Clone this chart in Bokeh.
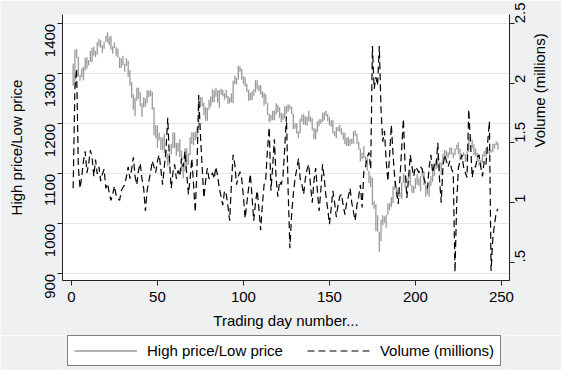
import math
from bokeh.plotting import figure
from bokeh.layouts import column
from bokeh.models import (Range1d, LinearAxis, FixedTicker, Legend, LegendItem,
                          CustomJSTickFormatter, ColumnDataSource)
from bokeh.embed import file_html
from bokeh.resources import INLINE

# ---------------- data ----------------
day = list(range(1, 249))

low = [1276, 1274, 1331, 1295, 1286, 1293, 1287, 1306, 1310, 1317,
       1324, 1323, 1336, 1333, 1338, 1355, 1352, 1342, 1350, 1364,
       1362, 1357, 1348, 1340, 1351, 1336, 1332, 1311, 1312, 1317,
       1304, 1316, 1294, 1276, 1252, 1228, 1215, 1246, 1250, 1235,
       1214, 1233, 1234, 1241, 1253, 1255, 1228, 1177, 1171, 1152,
       1167, 1148, 1147, 1142, 1130, 1115, 1117, 1139, 1151, 1151,
       1136, 1144, 1133, 1104, 1091, 1104, 1117, 1118, 1137, 1160,
       1157, 1167, 1171, 1191, 1233, 1235, 1217, 1206, 1206, 1228,
       1234, 1243, 1243, 1254, 1242, 1232, 1258, 1255, 1248, 1252,
       1240, 1241, 1243, 1241, 1279, 1279, 1288, 1304, 1288, 1280,
       1274, 1263, 1246, 1247, 1247, 1256, 1263, 1269, 1265, 1259,
       1252, 1236, 1240, 1218, 1203, 1206, 1207, 1207, 1218, 1223,
       1212, 1203, 1207, 1211, 1220, 1224, 1229, 1219, 1189, 1190,
       1180, 1171, 1181, 1204, 1198, 1198, 1196, 1205, 1203, 1187,
       1169, 1169, 1183, 1195, 1200, 1204, 1207, 1215, 1205, 1197,
       1194, 1181, 1175, 1171, 1185, 1184, 1178, 1168, 1159, 1156,
       1155, 1156, 1160, 1160, 1176, 1160, 1148, 1124, 1129, 1131,
       1120, 1106, 1081, 1073, 1037, 1030, 985, 984, 944, 965,
       997, 1002, 992, 1018, 1027, 1034, 1041, 1068, 1053, 1054,
       1053, 1050, 1081, 1073, 1081, 1089, 1076, 1062, 1061, 1070,
       1078, 1076, 1065, 1094, 1077, 1054, 1059, 1054, 1075, 1084,
       1095, 1109, 1112, 1108, 1098, 1117, 1132, 1134, 1131, 1137,
       1140, 1131, 1137, 1149, 1139, 1128, 1127, 1136, 1124, 1125,
       1144, 1163, 1151, 1137, 1135, 1125, 1116, 1114, 1122, 1134,
       1134, 1139, 1139, 1142, 1144, 1150, 1157, 1148]

high = [1320, 1348, 1350, 1334, 1298, 1311, 1314, 1332, 1333, 1327,
        1346, 1352, 1354, 1346, 1363, 1370, 1367, 1357, 1364, 1376,
        1383, 1374, 1376, 1355, 1363, 1353, 1350, 1333, 1331, 1336,
        1320, 1331, 1326, 1307, 1283, 1259, 1252, 1272, 1272, 1263,
        1241, 1253, 1251, 1267, 1266, 1267, 1264, 1233, 1197, 1197,
        1182, 1173, 1173, 1180, 1149, 1140, 1142, 1160, 1183, 1182,
        1162, 1162, 1169, 1146, 1118, 1151, 1151, 1141, 1173, 1183,
        1183, 1184, 1193, 1248, 1253, 1253, 1242, 1233, 1232, 1248,
        1255, 1269, 1267, 1272, 1267, 1267, 1270, 1268, 1261, 1268,
        1256, 1252, 1261, 1286, 1296, 1292, 1316, 1315, 1310, 1295,
        1293, 1280, 1268, 1262, 1265, 1269, 1287, 1287, 1277, 1277,
        1265, 1262, 1259, 1242, 1220, 1218, 1226, 1226, 1241, 1238,
        1233, 1222, 1220, 1235, 1236, 1239, 1237, 1234, 1220, 1201,
        1201, 1185, 1210, 1218, 1219, 1215, 1214, 1226, 1215, 1211,
        1191, 1190, 1205, 1209, 1209, 1222, 1223, 1226, 1220, 1214,
        1207, 1207, 1185, 1193, 1194, 1198, 1191, 1183, 1182, 1172,
        1174, 1169, 1170, 1185, 1187, 1180, 1164, 1150, 1142, 1155,
        1135, 1132, 1106, 1096, 1092, 1045, 1039, 1017, 984, 1008,
        1017, 1015, 1018, 1041, 1041, 1053, 1075, 1085, 1072, 1072,
        1063, 1082, 1100, 1097, 1092, 1101, 1107, 1078, 1075, 1091,
        1099, 1091, 1095, 1110, 1105, 1078, 1074, 1085, 1095, 1107,
        1121, 1126, 1136, 1123, 1123, 1140, 1148, 1146, 1143, 1153,
        1152, 1142, 1151, 1158, 1163, 1150, 1140, 1143, 1139, 1145,
        1173, 1173, 1168, 1159, 1150, 1142, 1137, 1128, 1139, 1145,
        1152, 1151, 1150, 1148, 1160, 1160, 1165, 1162]

volume = [1.12, 1.95, 2.12, 1.30, 1.12, 1.22, 1.35, 1.43, 1.25, 1.32,
          1.44, 1.38, 1.22, 1.36, 1.24, 1.30, 1.18, 1.24, 1.28, 1.12,
          1.16, 1.08, 1.02, 1.07, 1.14, 1.06, 1.03, 1.02, 1.10, 1.13,
          1.15, 1.22, 1.30, 1.20, 1.28, 1.38, 1.22, 1.15, 1.27, 1.33,
          1.20, 1.12, 0.93, 1.10, 1.18, 1.25, 1.35, 1.30, 1.25, 1.35,
          1.40, 1.28, 1.15, 1.30, 1.45, 1.71, 1.35, 1.12, 1.25, 1.32,
          1.20, 1.27, 1.22, 1.37, 1.30, 1.43, 1.25, 1.07, 1.20, 1.37,
          1.15, 0.92, 1.30, 1.90, 1.57, 1.30, 1.04, 1.18, 1.29, 1.20,
          1.21, 1.25, 1.20, 1.30, 1.22, 1.12, 1.05, 0.98, 1.10, 1.07,
          0.97, 0.85, 1.15, 1.40, 1.32, 1.15, 1.22, 1.26, 1.20, 1.05,
          0.87, 1.00, 1.12, 1.24, 1.05, 0.85, 1.00, 1.10, 0.95, 0.77,
          0.98, 1.15, 1.20, 1.45, 1.63, 1.10, 1.30, 1.53, 1.20, 1.05,
          1.18, 1.15, 1.22, 1.45, 1.72, 1.10, 0.62, 0.90, 1.07, 1.20,
          1.28, 1.37, 1.20, 1.15, 1.07, 1.20, 1.28, 1.32, 1.15, 1.00,
          1.18, 1.29, 1.10, 0.93, 1.10, 1.32, 1.20, 1.05, 0.95, 0.82,
          0.95, 1.10, 1.00, 0.88, 0.98, 1.05, 1.07, 0.98, 0.90, 1.00,
          1.05, 1.12, 1.00, 0.92, 0.85, 0.98, 1.05, 1.15, 0.96, 1.26,
          1.30, 1.38, 1.42, 1.28, 2.31, 1.95, 2.05, 1.98, 2.31, 1.78,
          1.51, 1.60, 1.35, 1.18, 1.40, 1.65, 1.40, 1.20, 1.10, 0.99,
          1.20, 1.45, 1.70, 1.30, 1.04, 1.20, 1.40, 1.30, 1.22, 1.30,
          1.28, 1.25, 1.30, 1.28, 1.20, 1.15, 1.12, 1.30, 1.40, 1.25,
          1.32, 1.30, 1.50, 1.20, 1.00, 1.30, 1.40, 1.35, 1.30, 1.35,
          1.28, 1.25, 0.42, 1.00, 1.29, 1.35, 1.40, 1.30, 1.25, 1.21,
          1.78, 1.51, 1.21, 1.30, 1.30, 1.38, 1.40, 1.30, 1.22, 1.35,
          1.32, 1.50, 1.68, 0.43, 0.70, 0.82, 0.92, 0.95]

x_ticks = [0, 50, 100, 150, 200, 250]
price_ticks = [900, 1000, 1100, 1200, 1300, 1400]
vol_ticks = [0.5, 1.0, 1.5, 2.0, 2.5]
legend_labels = ["High price/Low price", "Volume (millions)"]

# ---------------- styles ----------------
FONT = "Liberation Sans"
BG = "#EEF0F2"
SPIKE_COLOR = "#9a9a9a"
SPIKE_W = 1.3
VOL_DASH = "7 4"
VOL_W = 1.2

# ---------------- main figure ----------------
p = figure(width=561, height=335, output_backend="svg", toolbar_location=None,
           x_range=Range1d(-5.2, 254.7), y_range=Range1d(886.6, 1418.6),
           min_border_left=62, min_border_right=52, min_border_top=14,
           min_border_bottom=55, background_fill_color="white",
           border_fill_color=BG, outline_line_color=None)
p.extra_y_ranges = {"vol": Range1d(0.3496, 2.573)}

src = ColumnDataSource(dict(day=day, low=low, high=high, volume=volume))

p.segment(x0="day", y0="low", x1="day", y1="high", source=src,
          line_color=SPIKE_COLOR, line_width=SPIKE_W)
p.line(x="day", y="volume", source=src, y_range_name="vol",
       line_color="black", line_width=VOL_W, line_dash=VOL_DASH)


def style_axis(ax):
    ax.major_label_text_font = FONT
    ax.major_label_text_font_size = "15px"
    ax.major_label_text_color = "black"
    ax.axis_label_text_font = FONT
    ax.axis_label_text_font_size = "15px"
    ax.axis_label_text_font_style = "normal"
    ax.axis_label_text_color = "black"
    ax.axis_line_color = "#222222"
    ax.major_tick_line_color = "#222222"
    ax.major_tick_out = 5
    ax.major_tick_in = 0
    ax.minor_tick_out = 0
    ax.minor_tick_in = 0


xa = p.xaxis[0]
style_axis(xa)
xa.ticker = FixedTicker(ticks=x_ticks)
xa.axis_label = "Trading day number..."
xa.major_label_standoff = 6
xa.axis_label_standoff = 7

ya = p.yaxis[0]
style_axis(ya)
ya.ticker = FixedTicker(ticks=price_ticks)
ya.axis_label = "High price/Low price"
ya.major_label_orientation = math.pi / 2
ya.major_label_standoff = 7
ya.axis_label_standoff = 13

ra = LinearAxis(y_range_name="vol", ticker=FixedTicker(ticks=vol_ticks),
                axis_label="Volume (millions)")
style_axis(ra)
ra.formatter = CustomJSTickFormatter(code="return tick.toString().replace(/^0\\./, '.');")
ra.major_label_orientation = math.pi / 2
ra.axis_label_orientation = math.pi / 2
ra.major_label_standoff = 6
ra.axis_label_standoff = 6
p.add_layout(ra, "right")

p.xgrid.grid_line_color = None
p.ygrid.grid_line_color = "#E6E6E6"
p.ygrid.grid_line_width = 1
p.ygrid.ticker = FixedTicker(ticks=price_ticks)

# ---------------- legend strip ----------------
q = figure(width=561, height=35, output_backend="svg", toolbar_location=None,
           x_range=Range1d(0, 1), y_range=Range1d(0, 1),
           min_border=0, x_axis_type=None, y_axis_type=None,
           background_fill_color=BG, border_fill_color=BG,
           outline_line_color=None)
q.grid.visible = False
nan = float("nan")
r1 = q.segment(x0=[nan], y0=[nan], x1=[nan], y1=[nan],
               line_color=SPIKE_COLOR, line_width=SPIKE_W)
r2 = q.line(x=[nan], y=[nan], line_color="black", line_width=VOL_W,
            line_dash=VOL_DASH)
legend = Legend(items=[LegendItem(label=legend_labels[0], renderers=[r1]),
                       LegendItem(label=legend_labels[1], renderers=[r2])],
                orientation="horizontal", location=(5, 4),
                label_text_font=FONT, label_text_font_size="15px",
                label_text_color="black",
                glyph_width=63, glyph_height=15, label_height=15,
                label_standoff=10, spacing=24, padding=6, margin=0,
                border_line_color="black", border_line_width=1,
                background_fill_color="white", background_fill_alpha=1.0)
q.add_layout(legend)

layout = column(p, q, spacing=0)
open("out.html", "w").write(file_html(layout, INLINE))
